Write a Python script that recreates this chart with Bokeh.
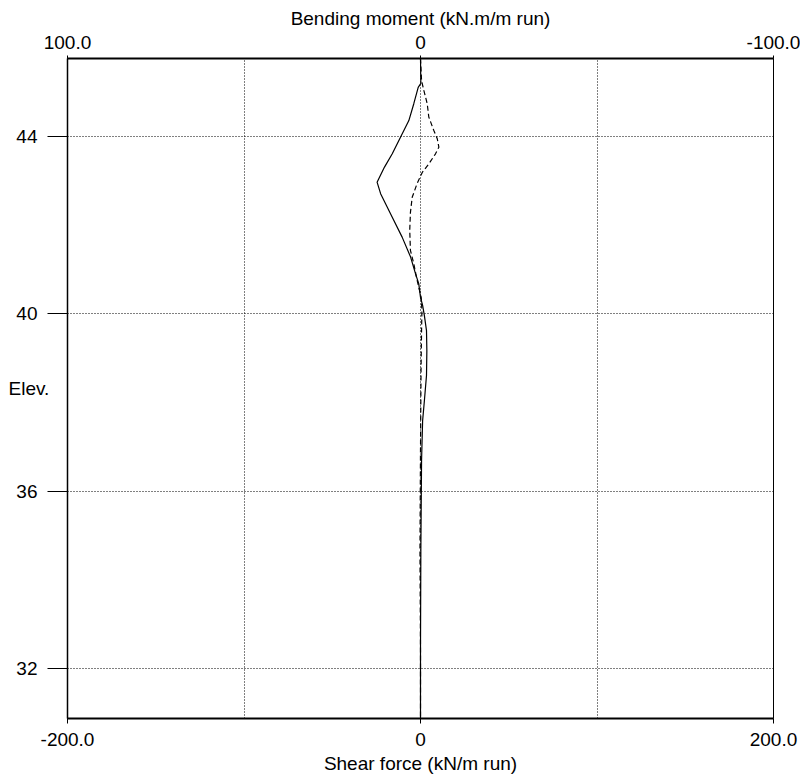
from bokeh.plotting import figure
from bokeh.models import Range1d, LinearAxis, FixedTicker
from bokeh.embed import file_html
from bokeh.resources import INLINE

# Bending moment (kN.m/m run) vs elevation  (solid line, top axis)
bm_elev = [45.76, 45.20, 45.11, 44.74, 44.36, 43.98, 43.61, 43.31, 42.97, 42.71,
           42.18, 41.73, 41.28, 40.90, 40.68, 40.37, 40.19, 39.96, 39.62, 39.17,
           38.61, 38.04, 37.59, 36.69, 34.66, 32.41, 30.87]
bm_vals = [0.0, -0.1, 0.65, 1.9, 3.3, 5.7, 8.0, 10.2, 12.3, 11.3,
           8.0, 5.2, 2.8, 1.4, 0.5, 0.0, -0.6, -1.1, -1.7, -1.8,
           -1.7, -1.1, -0.6, -0.3, -0.1, 0.0, 0.0]

# Shear force (kN/m run) vs elevation  (dashed line, bottom axis)
sf_elev = [45.76, 45.26, 45.04, 44.74, 44.44, 44.14, 43.95, 43.76, 43.61, 43.38,
           43.19, 42.93, 42.63, 42.29, 41.88, 41.43, 41.13, 40.83, 40.60, 40.37,
           40.07, 39.62, 38.72, 36.92, 34.66, 32.41, 30.87]
sf_vals = [0.0, 0.6, 1.9, 3.8, 4.7, 7.5, 9.5, 10.4, 8.5, 4.7,
           1.0, -2.0, -4.7, -5.7, -6.1, -5.7, -3.8, -2.3, -1.0, 0.4,
           0.8, 0.6, 0.3, 0.0, -0.3, 0.0, 0.0]

sf_ticks = [-200, 0, 200]
sf_labels = {-200: "-200.0", 0: "0", 200: "200.0"}
bm_ticks = [100, 0, -100]
bm_labels = {100: "100.0", 0: "0", -100: "-100.0"}
elev_ticks = [32, 36, 40, 44]
grid_x = [-100, 0, 100]

FONT = "Liberation Sans"
FS = "19px"

p = figure(frame_width=706, frame_height=660,
           x_range=Range1d(-200, 200), y_range=Range1d(30.87, 45.76),
           output_backend="svg", toolbar_location=None,
           min_border_left=67, min_border_top=58, min_border_right=27,
           min_border_bottom=62)
p.background_fill_color = "white"
p.border_fill_color = "white"
p.outline_line_color = "black"
p.outline_line_width = 1
p.outline_line_alpha = 1

p.extra_x_ranges = {"bm": Range1d(100, -100)}

# bottom axis: shear force
xa = p.xaxis[0]
xa.ticker = FixedTicker(ticks=sf_ticks)
xa.major_label_overrides = sf_labels
xa.axis_label = "Shear force (kN/m run)"

# left axis: elevation
ya = p.yaxis[0]
ya.ticker = FixedTicker(ticks=elev_ticks)
ya.major_tick_out = 20
ya.major_label_standoff = 10
ya.axis_label = "Elev."
ya.axis_label_orientation = "horizontal"
ya.axis_label_standoff = -36

top = LinearAxis(x_range_name="bm", ticker=FixedTicker(ticks=bm_ticks),
                 axis_label="Bending moment (kN.m/m run)")
top.major_label_overrides = bm_labels
p.add_layout(top, "above")

for ax in (xa, ya, top):
    ax.minor_tick_line_color = None
    ax.major_tick_in = 0
    ax.axis_line_color = "black"
    ax.major_tick_line_color = "black"
    ax.major_label_text_font = FONT
    ax.major_label_text_font_size = FS
    ax.major_label_text_color = "black"
    ax.axis_label_text_font = FONT
    ax.axis_label_text_font_size = FS
    ax.axis_label_text_font_style = "normal"
    ax.axis_label_text_color = "black"
xa.axis_line_width = 2
top.axis_line_width = 2
ya.axis_line_width = 1.5
xa.major_tick_out = 5
xa.major_label_standoff = 9
xa.axis_label_standoff = 4
top.major_tick_out = 3
top.major_label_standoff = 7
top.axis_label_standoff = 4

p.xgrid.ticker = FixedTicker(ticks=grid_x)
p.ygrid.ticker = FixedTicker(ticks=elev_ticks)
for g in (p.xgrid, p.ygrid):
    g.grid_line_color = "black"
    g.grid_line_dash = "1 2"
    g.grid_line_width = 1

p.line(bm_vals, bm_elev, x_range_name="bm", line_color="black", line_width=1.2)
p.line(sf_vals, sf_elev, line_color="black", line_width=1.2, line_dash="5 3")

open("out.html", "w").write(file_html(p, INLINE))
